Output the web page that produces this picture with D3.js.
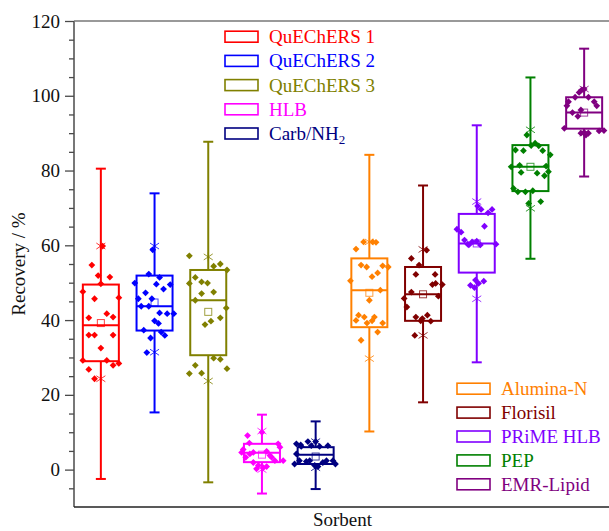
<!DOCTYPE html>
<html>
<head>
<meta charset="utf-8">
<script src="https://cdn.jsdelivr.net/npm/d3@7"></script>
<style>
  body { margin: 0; background: #fff; }
  svg { display: block; }
</style>
</head>
<body>
<div id="chart"></div>
<script>
const sorbents = ['QuEChERS 1', 'QuEChERS 2', 'QuEChERS 3', 'HLB', 'Carb/NH2',
    'Alumina-N', 'Florisil', 'PRiME HLB', 'PEP', 'EMR-Lipid'];
const colors = ['#ff0000', '#0000ff', '#808000', '#ff00ff', '#000080',
    '#ff8000', '#800000', '#8000ff', '#008000', '#800080'];

// box statistics
const whiskerLow = [-2.5, 15.3, -3.4, -6.4, -5.2, 10.2, 18.0, 28.7, 56.4, 78.4];
const q1 = [29.0, 37.2, 30.6, 2.0, 1.5, 38.1, 39.8, 52.7, 74.5, 91.2];
const median = [38.6, 43.7, 45.3, 4.5, 4.0, 48.0, 46.9, 60.5, 81.0, 95.5];
const q3 = [49.5, 51.9, 53.4, 6.9, 6.0, 56.5, 54.2, 68.4, 86.8, 99.6];
const whiskerHigh = [80.5, 73.9, 87.7, 14.7, 12.9, 84.2, 76.0, 92.1, 104.9, 112.6];
const means = [39.2, 44.7, 42.2, 4.0, 3.5, 47.3, 46.9, 60.5, 81.0, 95.5];
const pctLow = [24.3, 31.4, 23.7, 0.0, 0.5, 29.7, 35.9, 45.7, 69.9, 90.0];
const pctHigh = [59.8, 59.8, 56.9, 10.3, 7.5, 60.9, 58.9, 71.7, 90.9, 101.8];

// individual recoveries
const pointValues = [
    [54.7, 51.9, 51.5, 49.7, 47.6, 46.0, 45.7, 41.7, 40.6, 40.8, 36.0, 36.0, 36.0, 32.5, 29.2, 29.2, 27.9, 28.4, 26.8, 24.3, 59.8],
    [58.8, 52.3, 51.4, 49.9, 49.6, 49.5, 48.3, 47.3, 45.7, 45.7, 43.7, 43.7, 41.9, 41.7, 41.7, 39.8, 39.1, 37.3, 36.8, 35.9, 35.2, 31.3],
    [57.2, 54.4, 55.0, 53.4, 51.4, 49.8, 50.2, 49.9, 47.1, 47.5, 45.3, 43.2, 40.6, 39.7, 38.8, 29.8, 29.5, 27.9, 27.0, 25.7, 25.8],
    [9.1, 7.1, 5.4, 6.9, 6.0, 4.6, 4.9, 3.8, 3.3, 2.4, 2.4, 1.9, 1.1, 0.5, 0.8, 0.2, 3.3, 4.2, 4.6, 10.0],
    [6.9, 6.2, 7.5, 6.4, 4.2, 1.5, 2.4, 2.2, 1.1, 0.8, 1.9, 2.4, 2.4, 6.4, 6.2, 6.6, 2.4, 1.5, 7.5],
    [60.9, 60.9, 60.8, 59.0, 54.7, 54.2, 54.5, 54.2, 52.6, 51.6, 50.5, 48.0, 45.3, 41.3, 40.8, 40.8, 39.9, 39.2, 39.8, 39.2, 36.8, 34.6],
    [56.5, 58.7, 54.7, 52.2, 52.2, 49.5, 49.8, 49.5, 47.5, 45.8, 46.4, 43.5, 40.8, 40.4, 41.3, 39.8, 39.7, 35.9],
    [70.5, 69.6, 69.6, 68.7, 65.1, 64.3, 63.5, 61.4, 60.1, 60.9, 61.1, 60.1, 60.3, 60.3, 50.7, 50.4, 49.3, 48.7, 49.8],
    [85.5, 85.3, 86.7, 87.3, 86.6, 85.3, 84.2, 81.0, 81.4, 81.2, 79.7, 79.5, 79.3, 78.6, 75.2, 74.3, 74.3, 74.6, 71.2, 71.7, 89.5],
    [100.9, 101.6, 101.8, 99.6, 98.4, 99.6, 98.4, 97.3, 97.3, 95.5, 96.2, 94.5, 91.3, 90.0, 89.5, 90.0, 90.6, 90.7, 90.2]
];
// horizontal scatter of each point, as a fraction of the half box width
const pointJitter = [
    [-0.5, -0.15, 0.5, 0, -1.0, 1.0, -0.35, 0.33, -0.67, 0.68, -0.67, -0.35, 0.68, 0, -1.0, 0.33, 0.68, 1.0, -0.67, -0.35, 0.1],
    [-0.1, -0.32, 0.28, -1.1, 0.1, 0.87, 0.5, -0.5, -0.9, -0.15, -0.74, -0.32, 0.28, 0.7, 1.07, 0, 0.22, -0.6, 0.37, 0.57, -0.22, -0.43],
    [-1.05, 0.3, 0.67, 1.04, -0.72, -1.05, -0.37, -0.04, -0.37, 0.3, -0.72, 1.0, 0.67, 0.15, -0.18, 0.3, 0.67, -0.72, 1.04, -1.05, -0.37],
    [-0.8, -0.7, -1.04, 0.9, 1.0, -0.48, 0.26, 0.44, -0.9, 0.72, 1.18, -0.48, -0.2, 0.07, 0.26, -0.3, 0.54, -0.67, -1.13, 0],
    [-1.07, -0.8, -0.43, -0.24, -1.07, -1.17, -0.9, -0.52, -0.05, 0.13, 0.4, 0.6, 0.96, 0.68, 0.22, -0.83, -0.33, 1.1, 0],
    [-0.32, 0.18, 0.37, -0.74, -0.46, -0.15, 0.74, 1.05, 0.46, 0.15, -1.05, 0.61, 0, -0.6, -0.28, 0.28, -0.74, -0.13, 0.15, 0.74, 0.46, -0.46],
    [-0.65, 0.2, -0.22, -0.4, 0.67, 0.52, 0.7, 1.07, -0.65, -1.05, 0.85, -0.9, -0.4, -0.04, 0.24, -0.13, 0.43, -0.46],
    [0.05, 0.24, 0.85, 0.63, 0.43, -1.1, -0.87, -0.68, -0.44, -0.26, 0, 0.2, 1.07, -0.5, -0.07, 0.39, -0.35, -0.13, 0.1],
    [-0.83, -0.39, 0.04, 0.26, 0.46, 0.68, 1.1, -1.07, -0.6, 0.87, 1.0, -0.52, 0.37, 0.78, -0.94, -0.7, -0.28, 0.13, -0.1, 0.57, -0.2],
    [-0.28, -0.13, 0, -0.5, -0.87, 0.24, 0.56, -0.96, 0.7, -0.65, -0.18, -0.35, -1.1, -0.18, 0.1, 0.24, 0.83, 1.1, 0]
];
const yTicks = [0, 20, 40, 60, 80, 100, 120];

const width = 609, height = 531;
const margin = { left: 74, top: 21, right: -2, bottom: 24 };
const axisColor = '#4a4a4a';
const serif = '"Liberation Serif", "Times New Roman", serif';

const svg = d3.select('#chart').append('svg')
    .attr('width', width)
    .attr('height', height)
    .attr('font-family', serif);

const x = d3.scaleBand()
    .domain(sorbents)
    .range([margin.left, width - margin.right])
    .padding(0);
const y = d3.scaleLinear()
    .domain([-10, 120])
    .range([height - margin.bottom, margin.top]);

const boxHalf = 18;
const capHalf = 5;
const jitter = d3.scaleLinear().domain([-1, 1]).range([-boxHalf, boxHalf]);
const cx = i => x(sorbents[i]) + x.bandwidth() / 2;

// axes
const minorTicks = d3.range(-5, 120, 5).filter(v => v % 20 !== 0);
svg.append('g')
    .attr('transform', `translate(${margin.left},0)`)
    .call(d3.axisLeft(y).tickValues(minorTicks).tickSize(5).tickFormat(''))
    .call(g => g.select('.domain').remove())
    .call(g => g.selectAll('line').attr('stroke', axisColor).attr('stroke-width', 1.3));

svg.append('g')
    .attr('transform', `translate(${margin.left},0)`)
    .call(d3.axisLeft(y).tickValues(yTicks).tickSize(9).tickPadding(5))
    .call(g => g.attr('font-family', serif).attr('font-size', 19))
    .call(g => g.select('.domain').remove())
    .call(g => g.selectAll('line').attr('stroke', axisColor).attr('stroke-width', 1.3))
    .call(g => g.selectAll('text').attr('fill', '#111'));

svg.append('line')
    .attr('x1', margin.left).attr('x2', margin.left)
    .attr('y1', y(120)).attr('y2', y(-10))
    .attr('stroke', axisColor).attr('stroke-width', 1.5);
svg.append('line')
    .attr('x1', margin.left).attr('x2', width)
    .attr('y1', y(120)).attr('y2', y(120))
    .attr('stroke', '#777').attr('stroke-width', 1.5);
svg.append('line')
    .attr('x1', margin.left).attr('x2', width)
    .attr('y1', y(-10)).attr('y2', y(-10))
    .attr('stroke', '#222').attr('stroke-width', 1.5);

svg.append('text')
    .attr('transform', `translate(25,${(y(120) + y(-10)) / 2}) rotate(-90)`)
    .attr('text-anchor', 'middle')
    .attr('font-family', serif)
    .attr('font-size', 19)
    .attr('fill', '#111')
    .text('Recovery / %');

svg.append('text')
    .attr('x', (margin.left + width - margin.right) / 2)
    .attr('y', 526)
    .attr('text-anchor', 'middle')
    .attr('font-family', serif)
    .attr('font-size', 19)
    .attr('fill', '#111')
    .text('Sorbent');

// boxes
const groups = svg.append('g')
    .selectAll('g')
    .data(sorbents)
    .join('g')
    .attr('stroke', (d, i) => colors[i])
    .attr('fill', 'none');

groups.each(function (d, i) {
    const g = d3.select(this);
    const c = cx(i);
    g.append('line')
        .attr('x1', c).attr('x2', c)
        .attr('y1', y(q3[i])).attr('y2', y(whiskerHigh[i]))
        .attr('stroke-width', 2);
    g.append('line')
        .attr('x1', c).attr('x2', c)
        .attr('y1', y(q1[i])).attr('y2', y(whiskerLow[i]))
        .attr('stroke-width', 2);
    [whiskerLow[i], whiskerHigh[i]].forEach(v => {
        g.append('line')
            .attr('x1', c - capHalf).attr('x2', c + capHalf)
            .attr('y1', y(v)).attr('y2', y(v))
            .attr('stroke-width', 2);
    });
    g.append('rect')
        .attr('x', c - boxHalf)
        .attr('y', y(q3[i]))
        .attr('width', boxHalf * 2)
        .attr('height', y(q1[i]) - y(q3[i]))
        .attr('stroke-width', 2);
    g.append('line')
        .attr('x1', c - boxHalf).attr('x2', c + boxHalf)
        .attr('y1', y(median[i])).attr('y2', y(median[i]))
        .attr('stroke-width', 2);

    // data points
    const pts = pointValues[i].map((v, k) => ({ v, j: pointJitter[i][k] }));
    g.selectAll('path.pt')
        .data(pts)
        .join('path')
        .attr('class', 'pt')
        .attr('d', 'M0,-3.4L3.4,0L0,3.4L-3.4,0Z')
        .attr('transform', p => `translate(${c + jitter(p.j)},${y(p.v)})`)
        .attr('fill', colors[i])
        .attr('stroke', 'none');

    // mean
    g.append('rect')
        .attr('x', c - 3.5)
        .attr('y', y(means[i]) - 3.5)
        .attr('width', 7)
        .attr('height', 7)
        .attr('stroke-width', 1)
        .attr('stroke-opacity', 0.75)
        .attr('fill', 'none');

    // 1% / 99% stars
    [pctLow[i], pctHigh[i]].forEach(v => {
        const s = g.append('g')
            .attr('transform', `translate(${c},${y(v)})`)
            .attr('stroke-width', 1)
            .attr('stroke-opacity', 0.8);
        s.append('line').attr('x1', 0).attr('x2', 0).attr('y1', -4.5).attr('y2', 4.5);
        s.append('line').attr('x1', -4.5).attr('x2', 4.5).attr('y1', -3).attr('y2', 3);
        s.append('line').attr('x1', -4.5).attr('x2', 4.5).attr('y1', 3).attr('y2', -3);
    });
});

// legends
function legend(items, x0, y0, step) {
    const lg = svg.append('g');
    items.forEach((i, k) => {
        const yy = y0 + k * step;
        lg.append('rect')
            .attr('x', x0).attr('y', yy - 5.5)
            .attr('width', 33).attr('height', 11)
            .attr('fill', 'none')
            .attr('stroke', colors[i])
            .attr('stroke-width', 1.6);
        const t = lg.append('text')
            .attr('x', x0 + 44).attr('y', yy + 6.5)
            .attr('font-family', serif)
            .attr('font-size', 19)
            .attr('fill', colors[i]);
        if (sorbents[i] === 'Carb/NH2') {
            t.append('tspan').text('Carb/NH');
            t.append('tspan').attr('font-size', 13).attr('dy', 4).text('2');
        } else {
            t.text(sorbents[i]);
        }
    });
}
legend([0, 1, 2, 3, 4], 225, 36.7, 24.2);
legend([5, 6, 7, 8, 9], 457, 388.7, 23.9);
</script>
</body>
</html>
